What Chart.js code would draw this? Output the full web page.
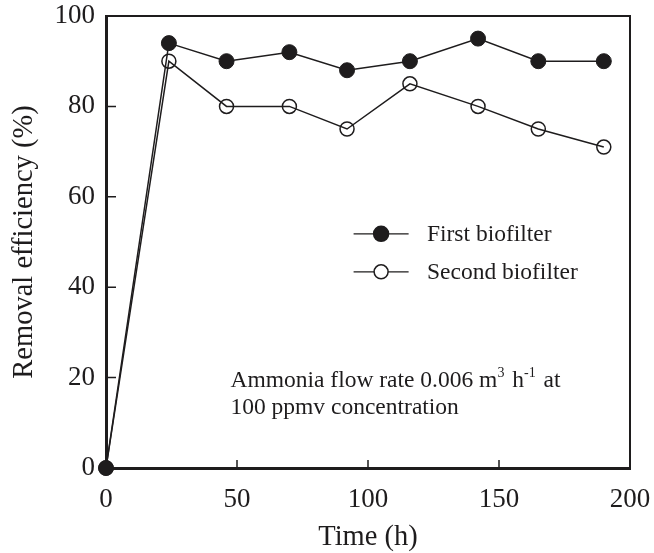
<!DOCTYPE html>
<html>
<head>
<meta charset="utf-8">
<script src="https://cdn.jsdelivr.net/npm/chart.js@4"></script>
<style>
  html, body { margin: 0; padding: 0; background: #fff; }
</style>
</head>
<body>
<canvas id="myChart" width="654" height="553"></canvas>
<script>
// data
const hours = [0, 24, 46, 70, 92, 116, 142, 165, 190];
const firstFilter = [0, 94, 90, 92, 88, 90, 95, 90, 90];
const secondFilter = [0, 90, 80, 80, 75, 85, 80, 75, 71];
const xTicks = [0, 50, 100, 150, 200];
const yTicks = [0, 20, 40, 60, 80, 100];

const ink = '#1e1c1d';
const serif = '"Liberation Serif", "DejaVu Serif", serif';

function pts(xs, ys) {
  return xs.map((x, i) => ({ x: x, y: ys[i] }));
}

// top/right frame, inward ticks, legend and note
const extras = {
  id: 'extras',
  afterDatasetsDraw(chart) {
    const ctx = chart.ctx;
    const a = chart.chartArea;
    const xs = chart.scales.x, ys = chart.scales.y;
    ctx.save();
    ctx.strokeStyle = ink;
    ctx.lineWidth = 2;
    ctx.beginPath();
    ctx.moveTo(a.left, a.top);
    ctx.lineTo(a.right, a.top);
    ctx.lineTo(a.right, a.bottom);
    ctx.stroke();

    ctx.lineWidth = 1.5;
    ctx.beginPath();
    xTicks.slice(1, -1).forEach(v => {
      const px = xs.getPixelForValue(v);
      ctx.moveTo(px, a.bottom);
      ctx.lineTo(px, a.bottom - 8);
    });
    yTicks.slice(1, -1).forEach(v => {
      const py = ys.getPixelForValue(v);
      ctx.moveTo(a.left, py);
      ctx.lineTo(a.left + 10, py);
    });
    ctx.stroke();

    // legend
    ctx.font = '23.5px ' + serif;
    ctx.textBaseline = 'middle';
    ctx.fillStyle = ink;
    chart.data.datasets.forEach((ds, i) => {
      const y = ys.getPixelForValue(51.8 - i * 8.4);
      const x0 = xs.getPixelForValue(94.5), x1 = xs.getPixelForValue(115.5);
      const xm = (x0 + x1) / 2;
      ctx.strokeStyle = ink;
      ctx.lineWidth = 1.3;
      ctx.beginPath();
      ctx.moveTo(x0, y); ctx.lineTo(x1, y);
      ctx.stroke();
      ctx.beginPath();
      ctx.arc(xm, y, ds.pointRadius, 0, Math.PI * 2);
      ctx.fillStyle = i === 0 ? ink : '#fff';
      ctx.fill();
      ctx.lineWidth = 1.5;
      ctx.stroke();
      ctx.fillStyle = ink;
      ctx.fillText(ds.label, xs.getPixelForValue(122.5), y + 1);
    });

    // note
    ctx.textBaseline = 'alphabetic';
    let x = xs.getPixelForValue(47.5);
    const b1 = ys.getPixelForValue(17.9);
    const b2 = ys.getPixelForValue(11.9);
    const runs = [
      ['Ammonia flow rate 0.006 m', 0], ['3', 1], [' h', 0], ['-1', 1], [' at', 0]
    ];
    runs.forEach(r => {
      ctx.font = (r[1] ? '14px ' : '23.5px ') + serif;
      const yy = r[1] ? b1 - 10 : b1;
      ctx.fillText(r[0], x, yy);
      x += ctx.measureText(r[0]).width + (r[1] ? 2 : 0);
    });
    ctx.font = '23.5px ' + serif;
    ctx.fillText('100 ppmv concentration', xs.getPixelForValue(47.5), b2);
    ctx.restore();
  }
};

const config = {
  type: 'line',
  data: {
    datasets: [
      {
        label: 'First biofilter',
        data: pts(hours, firstFilter),
        borderColor: ink,
        borderWidth: 1.5,
        backgroundColor: ink,
        pointBackgroundColor: ink,
        pointBorderColor: ink,
        pointRadius: 7.5,
        pointBorderWidth: 1,
        clip: false
      },
      {
        label: 'Second biofilter',
        data: pts(hours, secondFilter),
        borderColor: ink,
        borderWidth: 1.5,
        backgroundColor: 'rgba(0,0,0,0)',
        pointBackgroundColor: 'rgba(0,0,0,0)',
        pointBorderColor: ink,
        pointRadius: 7,
        pointBorderWidth: 1.5,
        clip: false
      }
    ]
  },
  options: {
    responsive: false,
    animation: false,
    layout: { padding: { top: 16, right: 24, left: 0, bottom: 0 } },
    plugins: { legend: { display: false }, tooltip: { enabled: false } },
    scales: {
      x: {
        type: 'linear', min: 0, max: 200,
        afterBuildTicks: s => { s.ticks = xTicks.map(v => ({ value: v })); },
        afterFit: s => { s.height = 85; s.paddingLeft = 0; s.paddingRight = 0; },
        grid: { display: false, drawTicks: false },
        border: { display: true, color: ink, width: 3 },
        ticks: { color: ink, font: { family: serif, size: 27 }, padding: 16, maxRotation: 0 },
        title: { display: true, text: 'Time (h)', color: ink, font: { family: serif, size: 28.5 }, padding: { top: -2, bottom: -2 } }
      },
      y: {
        type: 'linear', min: 0, max: 100,
        afterBuildTicks: s => { s.ticks = yTicks.map(v => ({ value: v })); },
        afterFit: s => { s.width = 106; s.paddingTop = 0; s.paddingBottom = 0; },
        grid: { display: false, drawTicks: false },
        border: { display: true, color: ink, width: 3 },
        ticks: { color: ink, font: { family: serif, size: 27 }, padding: 11 },
        title: { display: true, text: 'Removal efficiency (%)', color: ink, font: { family: serif, size: 28.5 }, padding: { top: 7, bottom: 7 } }
      }
    }
  },
  plugins: [extras]
};

var myChart = new Chart(document.getElementById('myChart'), config);
</script>
</body>
</html>
